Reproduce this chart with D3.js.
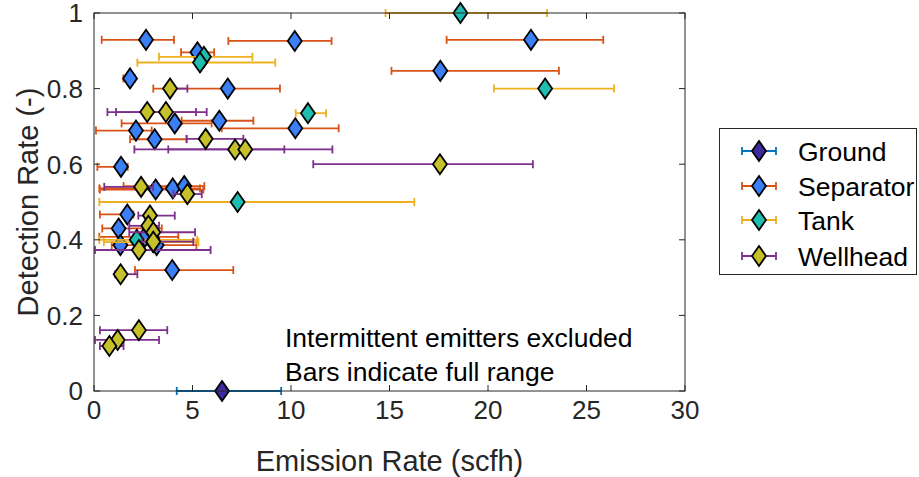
<!DOCTYPE html>
<html><head><meta charset="utf-8">
<script src="https://cdn.jsdelivr.net/npm/d3@7/dist/d3.min.js"></script>
<style>body{margin:0;background:#fff}svg{display:block}text{font-family:"Liberation Sans",Arial,sans-serif}</style>
</head><body><svg id="c" width="919" height="477"></svg>
<script>
// ---- data ----
const seriesNames = ["Ground","Separator","Tank","Wellhead"];
const barColors = ["#0072BD","#D95319","#EDB120","#7E2F8E"];
const faceColors = ["#3d2a9e","#3a7ff6","#1fbcb0","#c6c02b"];

const groundX = [6.5], groundY = [0], groundLo = [4.2], groundHi = [9.5];

const sepX  = [2.64,10.19,22.18,17.58,5.25,1.83,6.79,4.1,6.36,10.22,2.13,3.08,1.37,3.13,4.0,4.58,1.69,1.25,2.59,1.34,3.18,3.97];
const sepY  = [0.929,0.926,0.929,0.847,0.896,0.827,0.80,0.708,0.715,0.695,0.689,0.666,0.593,0.533,0.536,0.542,0.467,0.43,0.408,0.386,0.386,0.32];
const sepLo = [0.39,6.82,17.9,15.1,4.42,1.49,3.01,1.4,4.45,6.48,0.1,1.83,0.17,0.3,0.27,1.5,0.3,0.42,0.27,0.9,2.5,2.08];
const sepHi = [4.06,12.06,25.85,23.6,6.1,2.08,9.44,5.97,8.09,12.42,2.93,4.7,1.71,5.55,5.38,5.6,2.0,3.44,4.28,3.3,5.2,7.07];

const tankX  = [18.6,22.9,5.58,5.38,10.86,7.29,2.17,3.0];
const tankY  = [1.0,0.80,0.884,0.869,0.735,0.50,0.40,0.394];
const tankLo = [14.8,20.3,3.30,2.2,10.24,0.27,0.27,0.5];
const tankHi = [23.0,26.4,8.04,9.2,11.78,16.26,5.24,5.3];

const wellX  = [3.86,2.7,3.65,5.67,7.16,7.68,17.56,2.39,4.74,2.84,2.76,3.01,3.01,2.28,1.35,2.28,1.2,0.78];
const wellY  = [0.80,0.738,0.738,0.667,0.639,0.639,0.60,0.54,0.521,0.464,0.437,0.42,0.395,0.373,0.309,0.161,0.135,0.119];
const wellLo = [3.65,0.68,1.12,4.7,2.05,3.77,11.13,0.52,4.03,2.25,1.79,1.79,2.42,0.05,1.07,0.3,0.05,0.3];
const wellHi = [4.74,5.18,5.72,7.58,9.66,12.1,22.28,3.0,5.47,4.1,3.3,5.13,5.04,5.92,2.2,3.72,3.3,1.5];

const xTicks = [0,5,10,15,20,25,30];
const yTicks = [0,0.2,0.4,0.6,0.8,1];
const notes = ["Intermittent emitters excluded","Bars indicate full range"];

// ---- build ----
const series = [
  {x:groundX,y:groundY,lo:groundLo,hi:groundHi},
  {x:sepX,y:sepY,lo:sepLo,hi:sepHi},
  {x:tankX,y:tankY,lo:tankLo,hi:tankHi},
  {x:wellX,y:wellY,lo:wellLo,hi:wellHi}
].map((s,i)=>({name:seriesNames[i],bar:barColors[i],face:faceColors[i],
  pts:s.x.map((v,j)=>({x:v,y:s.y[j],lo:s.lo[j],hi:s.hi[j]}))}));

const svg = d3.select("#c");
const L=94,R=685,T=13,B=391;
const x = d3.scaleLinear().domain([0,30]).range([L,R]);
const y = d3.scaleLinear().domain([0,1]).range([B,T]);
const axisCol="#262626";
const tickFS=26, titleFS=29, noteFS=26.5, legFS=26.5;

const plot = svg.append("g");
const diamond = "M0,-10L7,0L0,10L-7,0Z";
const capH = 4;

series.forEach(s=>{
  const g = plot.append("g");
  s.pts.forEach(p=>{
    g.append("line").attr("x1",x(p.lo)).attr("x2",x(p.hi)).attr("y1",y(p.y)).attr("y2",y(p.y))
      .attr("stroke",s.bar).attr("stroke-width",1.8);
    [p.lo,p.hi].forEach(v=>g.append("line").attr("x1",x(v)).attr("x2",x(v))
      .attr("y1",y(p.y)-capH).attr("y2",y(p.y)+capH).attr("stroke",s.bar).attr("stroke-width",1.8));
  });
  s.pts.forEach(p=>{
    g.append("path").attr("d",diamond).attr("transform",`translate(${x(p.x)},${y(p.y)})`)
      .attr("fill",s.face).attr("stroke","#000").attr("stroke-width",1.8);
  });
});

// axes
const ax = svg.append("g");
ax.append("rect").attr("x",L).attr("y",T).attr("width",R-L).attr("height",B-T)
  .attr("fill","none").attr("stroke",axisCol).attr("stroke-width",1);
const tl=6;
xTicks.forEach(t=>{
  ax.append("line").attr("x1",x(t)).attr("x2",x(t)).attr("y1",B).attr("y2",B-tl).attr("stroke",axisCol);
  ax.append("line").attr("x1",x(t)).attr("x2",x(t)).attr("y1",T).attr("y2",T+tl).attr("stroke",axisCol);
  ax.append("text").attr("x",x(t)).attr("y",B+28).attr("text-anchor","middle")
    .attr("font-size",tickFS).attr("fill",axisCol).text(String(t));
});
yTicks.forEach(t=>{
  ax.append("line").attr("x1",L).attr("x2",L+tl).attr("y1",y(t)).attr("y2",y(t)).attr("stroke",axisCol);
  ax.append("line").attr("x1",R).attr("x2",R-tl).attr("y1",y(t)).attr("y2",y(t)).attr("stroke",axisCol);
  ax.append("text").attr("x",L-11).attr("y",y(t)+9.3).attr("text-anchor","end")
    .attr("font-size",tickFS).attr("fill",axisCol).text(t===0||t===1?String(t):d3.format(".1f")(t));
});
ax.append("text").attr("x",(L+R)/2).attr("y",471).attr("text-anchor","middle")
  .attr("font-size",titleFS).attr("fill",axisCol).text("Emission Rate (scfh)");
ax.append("text").attr("transform",`translate(38,${(T+B)/2}) rotate(-90)`).attr("text-anchor","middle")
  .attr("font-size",titleFS).attr("fill",axisCol).text("Detection Rate (-)");

// annotations
notes.forEach((n,i)=>svg.append("text").attr("x",285).attr("y",347+i*34)
  .attr("font-size",noteFS).attr("fill","#000").text(n));

// legend
const lg = svg.append("g");
lg.append("rect").attr("x",719.5).attr("y",128.5).attr("width",197).attr("height",146)
  .attr("fill","#fff").attr("stroke",axisCol).attr("stroke-width",1);
const ly=[151,186,220,256];
series.forEach((s,i)=>{
  const yy=ly[i];
  lg.append("line").attr("x1",742).attr("x2",776).attr("y1",yy).attr("y2",yy).attr("stroke",s.bar).attr("stroke-width",1.8);
  [742,776].forEach(v=>lg.append("line").attr("x1",v).attr("x2",v).attr("y1",yy-capH).attr("y2",yy+capH).attr("stroke",s.bar).attr("stroke-width",1.8));
  lg.append("path").attr("d",diamond).attr("transform",`translate(759,${yy})`)
    .attr("fill",s.face).attr("stroke","#000").attr("stroke-width",1.8);
  lg.append("text").attr("x",798).attr("y",yy+9.5).attr("font-size",legFS).attr("fill","#000").text(s.name);
});
</script></body></html>
